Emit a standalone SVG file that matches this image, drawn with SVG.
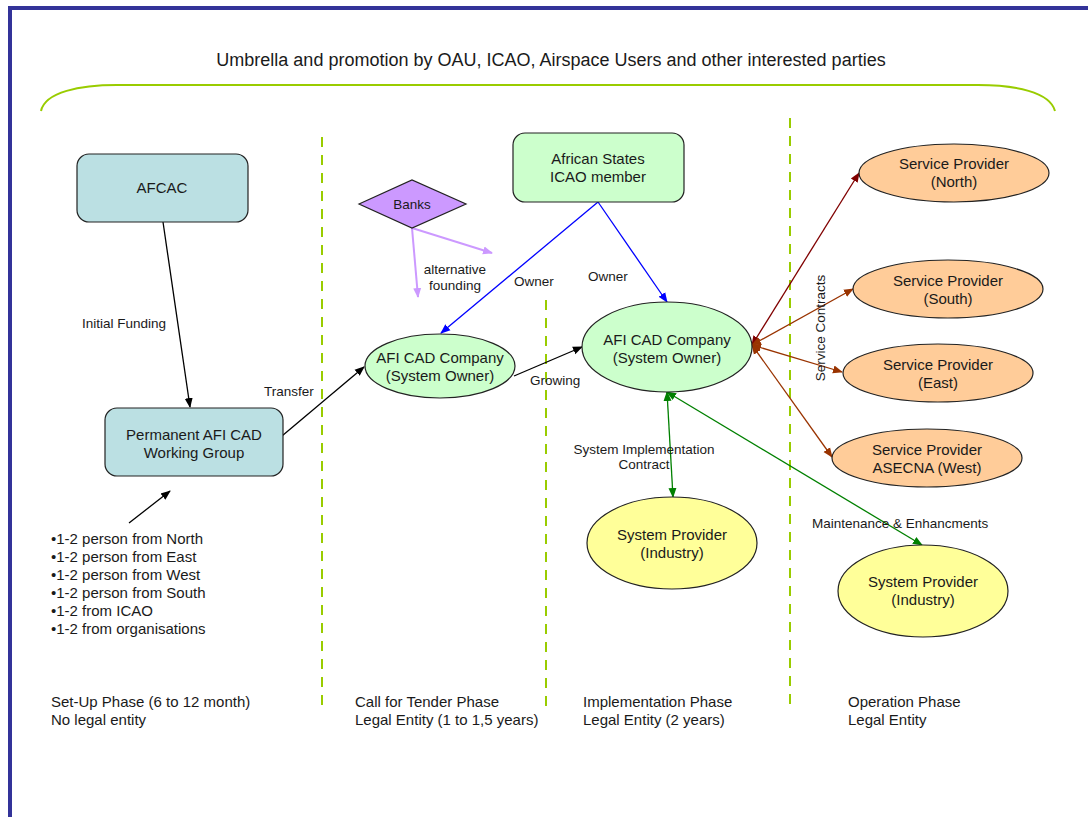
<svg xmlns="http://www.w3.org/2000/svg" width="1088" height="817" viewBox="0 0 1088 817">
<style>
text{font-family:"Liberation Sans",Arial,sans-serif;fill:#1a1a1a}
.n{font-size:15px;text-anchor:middle}
.l{font-size:13.5px}
.b{font-size:15px}
.box{stroke:#222;stroke-width:1.2}
.phase{stroke:#99cc00;stroke-width:2;stroke-dasharray:10,8;fill:none}
</style>
<defs>
<marker id="ak" viewBox="0 0 10 10" refX="9" refY="5" markerWidth="10" markerHeight="10" markerUnits="userSpaceOnUse" orient="auto-start-reverse"><path d="M0,1 L10,5 L0,9 z" fill="#000"/></marker>
<marker id="ab" viewBox="0 0 10 10" refX="9" refY="5" markerWidth="10" markerHeight="10" markerUnits="userSpaceOnUse" orient="auto-start-reverse"><path d="M0,1 L10,5 L0,9 z" fill="#0000ff"/></marker>
<marker id="ap" viewBox="0 0 10 10" refX="9" refY="5" markerWidth="10" markerHeight="10" markerUnits="userSpaceOnUse" orient="auto-start-reverse"><path d="M0,1 L10,5 L0,9 z" fill="#cc99ff"/></marker>
<marker id="ar" viewBox="0 0 10 10" refX="9" refY="5" markerWidth="10" markerHeight="10" markerUnits="userSpaceOnUse" orient="auto-start-reverse"><path d="M0,1 L10,5 L0,9 z" fill="#800000"/></marker>
<marker id="ao" viewBox="0 0 10 10" refX="9" refY="5" markerWidth="10" markerHeight="10" markerUnits="userSpaceOnUse" orient="auto-start-reverse"><path d="M0,1 L10,5 L0,9 z" fill="#993300"/></marker>
<marker id="ag" viewBox="0 0 10 10" refX="9" refY="5" markerWidth="10" markerHeight="10" markerUnits="userSpaceOnUse" orient="auto-start-reverse"><path d="M0,1 L10,5 L0,9 z" fill="#008000"/></marker>
</defs>
<rect width="1088" height="817" fill="#fff"/>
<!-- frame -->
<path d="M10,817 V8 H1088" fill="none" stroke="#333399" stroke-width="4"/>
<!-- umbrella -->
<text x="551" y="66" style="font-size:18px;text-anchor:middle">Umbrella and promotion by OAU, ICAO, Airspace Users and other interested parties</text>
<path d="M41,111 C45,92 80,85 117,85 H978 C1015,85 1050,92 1055,111" fill="none" stroke="#99cc00" stroke-width="2"/>
<!-- phase separators -->
<g id="separators">
<line class="phase" x1="322" y1="137" x2="322" y2="710"/>
<line class="phase" x1="546" y1="300" x2="546" y2="706"/>
<line class="phase" x1="790" y1="118" x2="790" y2="710"/>
</g>
<!-- connectors -->
<g id="connectors" fill="none">
<line x1="163" y1="222" x2="190" y2="407" stroke="#000" stroke-width="1.3" marker-end="url(#ak)"/>
<line x1="276" y1="441" x2="364" y2="367" stroke="#000" stroke-width="1.3" marker-end="url(#ak)"/>
<line x1="514" y1="376" x2="582" y2="347" stroke="#000" stroke-width="1.3" marker-end="url(#ak)"/>
<line x1="129" y1="523" x2="170" y2="491" stroke="#000" stroke-width="1.3" marker-end="url(#ak)"/>
<line x1="598" y1="202" x2="441" y2="333" stroke="#0000ff" stroke-width="1.3" marker-end="url(#ab)"/>
<line x1="598" y1="202" x2="667" y2="302" stroke="#0000ff" stroke-width="1.3" marker-end="url(#ab)"/>
<line x1="412" y1="228" x2="418" y2="297" stroke="#cc99ff" stroke-width="2" marker-end="url(#ap)"/>
<line x1="412" y1="228" x2="492" y2="253" stroke="#cc99ff" stroke-width="2" marker-end="url(#ap)"/>
<line x1="752" y1="345" x2="859" y2="173" stroke="#800000" stroke-width="1.3" marker-start="url(#ar)" marker-end="url(#ar)"/>
<line x1="752" y1="345" x2="853" y2="289" stroke="#993300" stroke-width="1.3" marker-start="url(#ao)" marker-end="url(#ao)"/>
<line x1="752" y1="345" x2="842" y2="372" stroke="#993300" stroke-width="1.3" marker-start="url(#ao)" marker-end="url(#ao)"/>
<line x1="752" y1="345" x2="832" y2="457" stroke="#993300" stroke-width="1.3" marker-start="url(#ao)" marker-end="url(#ao)"/>
<line x1="667" y1="392" x2="673" y2="497" stroke="#008000" stroke-width="1.3" marker-start="url(#ag)" marker-end="url(#ag)"/>
<line x1="667" y1="392" x2="922" y2="545" stroke="#008000" stroke-width="1.3" marker-start="url(#ag)" marker-end="url(#ag)"/>
</g>
<!-- connector labels -->
<g id="labels" class="l">
<text x="82" y="328">Initial Funding</text>
<text x="264" y="396">Transfer</text>
<text x="530" y="385">Growing</text>
<text x="514" y="286">Owner</text>
<text x="588" y="281">Owner</text>
<text x="455" y="274" text-anchor="middle">alternative</text>
<text x="455" y="290" text-anchor="middle">founding</text>
<text x="644" y="454" text-anchor="middle">System Implementation</text>
<text x="644" y="469" text-anchor="middle">Contract</text>
<text x="812" y="528">Maintenance &amp; Enhancments</text>
<text transform="translate(825,328) rotate(-90)" text-anchor="middle">Service Contracts</text>
</g>
<!-- nodes -->
<g id="afcac"><rect class="box" x="77" y="154" width="171" height="68" rx="12" fill="#bbe0e3"/><text class="n" x="162" y="193">AFCAC</text></g>
<g id="working-group"><rect class="box" x="105" y="408" width="178" height="68" rx="12" fill="#bbe0e3"/><text class="n" x="194" y="440">Permanent AFI CAD</text><text class="n" x="194" y="458">Working Group</text></g>
<g id="banks"><polygon class="box" points="359,204 412,180 466,204 412,228" fill="#cc99ff"/><text class="n" x="412" y="209" style="font-size:13.5px">Banks</text></g>
<g id="african-states"><rect class="box" x="513" y="133" width="171" height="69" rx="12" fill="#ccffcc"/><text class="n" x="598" y="164">African States</text><text class="n" x="598" y="182">ICAO member</text></g>
<g id="afi-cad-1"><ellipse class="box" cx="440" cy="366" rx="75" ry="32" fill="#ccffcc"/><text class="n" x="440" y="363">AFI CAD Company</text><text class="n" x="440" y="381">(System Owner)</text></g>
<g id="afi-cad-2"><ellipse class="box" cx="667" cy="347" rx="85" ry="45" fill="#ccffcc"/><text class="n" x="667" y="345">AFI CAD Company</text><text class="n" x="667" y="363">(System Owner)</text></g>
<g id="sp-north"><ellipse class="box" cx="954" cy="173" rx="95" ry="29" fill="#ffcc99"/><text class="n" x="954" y="169">Service Provider</text><text class="n" x="954" y="187">(North)</text></g>
<g id="sp-south"><ellipse class="box" cx="948" cy="289" rx="95" ry="29" fill="#ffcc99"/><text class="n" x="948" y="286">Service Provider</text><text class="n" x="948" y="304">(South)</text></g>
<g id="sp-east"><ellipse class="box" cx="938" cy="373" rx="95" ry="29" fill="#ffcc99"/><text class="n" x="938" y="370">Service Provider</text><text class="n" x="938" y="388">(East)</text></g>
<g id="sp-west"><ellipse class="box" cx="927" cy="458" rx="95" ry="29" fill="#ffcc99"/><text class="n" x="927" y="455">Service Provider</text><text class="n" x="927" y="473">ASECNA (West)</text></g>
<g id="sys-prov-1"><ellipse class="box" cx="672" cy="543" rx="85" ry="46" fill="#ffff99"/><text class="n" x="672" y="540">System Provider</text><text class="n" x="672" y="558">(Industry)</text></g>
<g id="sys-prov-2"><ellipse class="box" cx="923" cy="591" rx="85" ry="46" fill="#ffff99"/><text class="n" x="923" y="587">System Provider</text><text class="n" x="923" y="605">(Industry)</text></g>
<!-- members list -->
<g id="members" class="b">
<text x="51" y="544">•1-2 person from North</text>
<text x="51" y="562">•1-2 person from East</text>
<text x="51" y="580">•1-2 person from West</text>
<text x="51" y="598">•1-2 person from South</text>
<text x="51" y="616">•1-2 from ICAO</text>
<text x="51" y="634">•1-2 from organisations</text>
</g>
<!-- phases -->
<g id="phases" class="b">
<text x="51" y="707">Set-Up Phase (6 to 12 month)</text>
<text x="51" y="725">No legal entity</text>
<text x="355" y="707">Call for Tender Phase</text>
<text x="355" y="725">Legal Entity (1 to 1,5 years)</text>
<text x="583" y="707">Implementation Phase</text>
<text x="583" y="725">Legal Entity (2 years)</text>
<text x="848" y="707">Operation Phase</text>
<text x="848" y="725">Legal Entity</text>
</g>
</svg>
